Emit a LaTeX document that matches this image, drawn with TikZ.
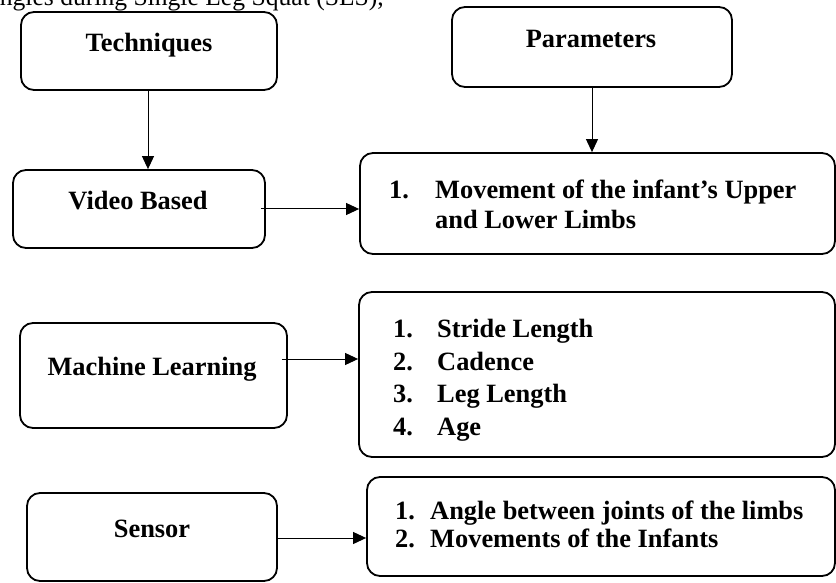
\documentclass[tikz,border=0pt]{standalone}
\usepackage{fontspec}
\setmainfont{Liberation Serif}
\usetikzlibrary{arrows.meta}
\begin{document}
\begin{tikzpicture}[x=1pt,y=-1pt,
  box/.style={draw, line width=1.8pt, rounded corners=13pt, inner sep=0pt},
  lbl/.style={font=\fontsize{26.4}{30}\selectfont\bfseries, inner sep=0pt, anchor=base},
  itm/.style={font=\fontsize{26.4}{30}\selectfont\bfseries, inner sep=0pt, anchor=base west},
  arr/.style={line width=1pt, -{Triangle[length=13pt,width=12pt]}}]
\useasboundingbox (0,0) rectangle (836,583);
% cut-off page text at the top
\node[font=\fontsize{25.6}{30}\selectfont, inner sep=0pt, anchor=base east] (cut) at (384,6) {angles during Single Leg Squat (SLS),};
% boxes
\node[box, minimum width=256pt, minimum height=78pt] (tech) at (149,51) {};
\node[box, minimum width=280pt, minimum height=80pt] (param) at (592,47) {};
\node[box, minimum width=252pt, minimum height=78pt] (video) at (139,209) {};
\node[box, minimum width=475pt, minimum height=101pt] (move) at (597.5,203.5) {};
\node[box, minimum width=267pt, minimum height=105pt] (ml) at (153.5,375.5) {};
\node[box, minimum width=476pt, minimum height=165pt] (mllist) at (597,374.5) {};
\node[box, minimum width=250pt, minimum height=88pt] (sensor) at (152,537) {};
\node[box, minimum width=468pt, minimum height=99pt] (slist) at (601,526.5) {};
% labels
\node[lbl] (techT) at (149,52) {Techniques};
\node[lbl] (paramT) at (591,48) {Parameters};
\node[lbl] (videoT) at (138,210) {Video Based};
\node[lbl] (mlT) at (152,375) {Machine Learning};
\node[lbl] (sensorT) at (152,537) {Sensor};
% movement box text
\node[itm] (m1n) at (389,199) {1.};
\node[itm] (m1) at (435,199) {Movement of the infant’s Upper};
\node[itm] (m2) at (435,229) {and Lower Limbs};
% machine learning list
\node[itm] (l1n) at (393,337) {1.};
\node[itm] (l1) at (437,337) {Stride Length};
\node[itm] (l2n) at (393,370) {2.};
\node[itm] (l2) at (437,370) {Cadence};
\node[itm] (l3n) at (393,402) {3.};
\node[itm] (l3) at (437,402) {Leg Length};
\node[itm] (l4n) at (393,435) {4.};
\node[itm] (l4) at (437,435) {Age};
% sensor list
\node[itm] (s1n) at (395,519) {1.};
\node[itm] (s1) at (430,519) {Angle between joints of the limbs};
\node[itm] (s2n) at (395,547) {2.};
\node[itm] (s2) at (430,547) {Movements of the Infants};
% connectors
\coordinate (techout) at ([xshift=-1pt]tech.south);
\draw[arr] (techout) -- (techout |- video.north);
\draw[arr] (param.south) -- (param.south |- move.north);
\coordinate (videoout) at ([xshift=-5pt]video.east);
\draw[arr] (videoout) -- (videoout -| move.west);
\coordinate (mlout) at ([xshift=-6pt,yshift=16.5pt]ml.east);
\draw[arr] (mlout) -- (mlout -| mllist.west);
\coordinate (sout) at ([yshift=-1pt]sensor.east);
\draw[arr] (sout) -- (sout -| slist.west);
\end{tikzpicture}
\end{document}
